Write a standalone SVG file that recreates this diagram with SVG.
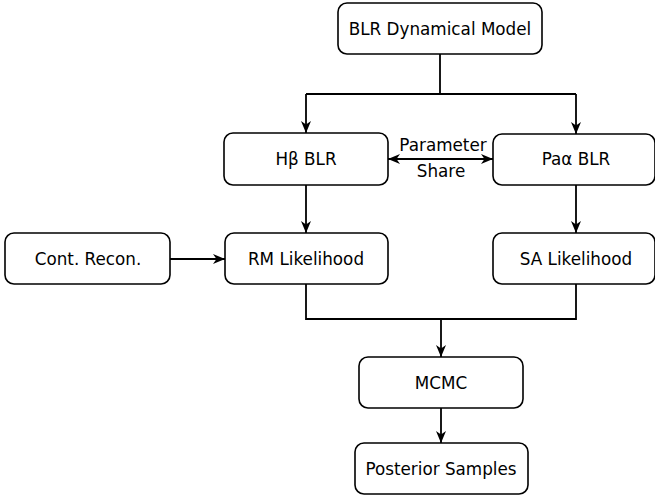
<svg xmlns="http://www.w3.org/2000/svg" width="655" height="496" viewBox="0 0 655 496">
<style>
.box{fill:#fff;stroke:#000;stroke-width:1.6}
.t{font-family:"DejaVu Sans",sans-serif;font-size:16.8px;fill:#000;text-anchor:middle;dominant-baseline:central}
.c{fill:none;stroke:#000;stroke-width:1.8}
</style>
<defs>
<marker id="ah" viewBox="0 0 12 10" refX="12" refY="5" markerWidth="12" markerHeight="10" markerUnits="userSpaceOnUse" orient="auto-start-reverse">
<path d="M0,0 L12,5 L0,10 L3.5,5 Z" fill="#000"/>
</marker>
</defs>
<rect width="655" height="496" fill="#fff"/>
<g id="connectors">
<path class="c" d="M440,54 V94 M306,94 H576"/>
<path class="c" d="M306,94 V133" marker-end="url(#ah)"/>
<path class="c" d="M576,94 V134" marker-end="url(#ah)"/>
<path class="c" d="M388,159 H493" marker-start="url(#ah)" marker-end="url(#ah)"/>
<path class="c" d="M306,185 V233" marker-end="url(#ah)"/>
<path class="c" d="M576,185 V233" marker-end="url(#ah)"/>
<path class="c" d="M170,259 H225" marker-end="url(#ah)"/>
<path class="c" d="M306,284 V319 H576 V284"/>
<path class="c" d="M441,319 V357" marker-end="url(#ah)"/>
<path class="c" d="M441,408 V443" marker-end="url(#ah)"/>
<text class="t" x="443" y="145">Parameter</text>
<text class="t" x="441" y="171">Share</text>
</g>
<g id="blr"><rect class="box" x="338" y="3" width="204" height="51" rx="9"/><text class="t" x="440" y="29">BLR Dynamical Model</text></g>
<g id="hb"><rect class="box" x="224" y="133" width="164" height="52" rx="9"/><text class="t" x="306" y="159">Hβ BLR</text></g>
<g id="pa"><rect class="box" x="493" y="134" width="162" height="51" rx="9"/><text class="t" x="576" y="159">Paα BLR</text></g>
<g id="cont"><rect class="box" x="5" y="233" width="165" height="51" rx="9"/><text class="t" x="88" y="259">Cont. Recon.</text></g>
<g id="rm"><rect class="box" x="225" y="233" width="163" height="51" rx="9"/><text class="t" x="306" y="259">RM Likelihood</text></g>
<g id="sa"><rect class="box" x="493" y="233" width="162" height="51" rx="9"/><text class="t" x="576" y="259">SA Likelihood</text></g>
<g id="mcmc"><rect class="box" x="359" y="357" width="164" height="51" rx="9"/><text class="t" x="441" y="383">MCMC</text></g>
<g id="post"><rect class="box" x="355" y="443" width="173" height="51" rx="9"/><text class="t" x="441" y="469">Posterior Samples</text></g>
</svg>
